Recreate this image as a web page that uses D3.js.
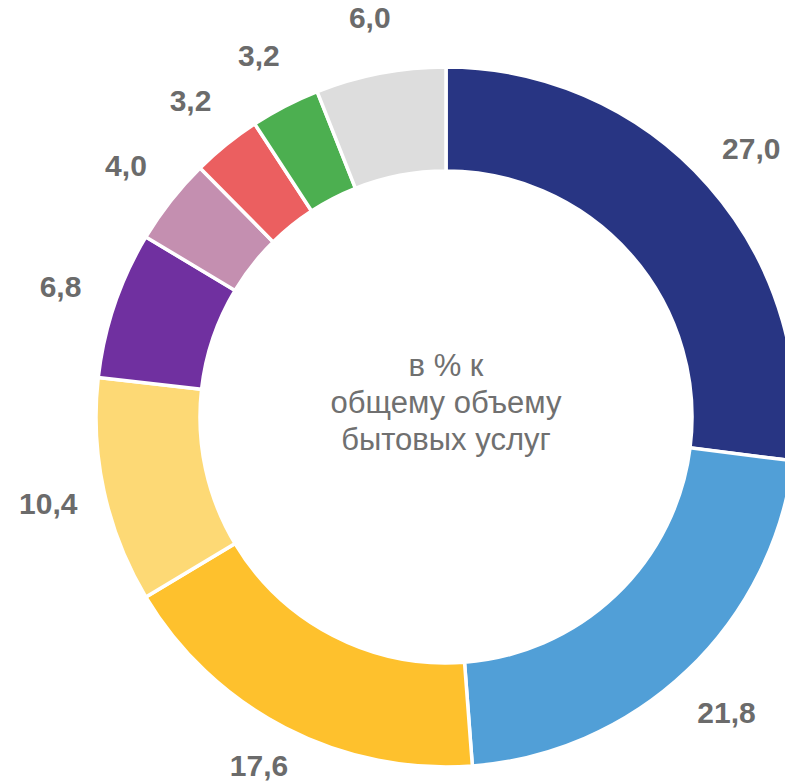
<!DOCTYPE html>
<html>
<head>
<meta charset="utf-8">
<script src="https://cdn.jsdelivr.net/npm/d3@7"></script>
<style>
  html, body { margin: 0; padding: 0; background: #ffffff; }
  svg { display: block; }
</style>
</head>
<body>
<svg id="chart" width="785" height="782"></svg>
<script>
// Data (share of total volume of household services, %)
const categories = ["c1", "c2", "c3", "c4", "c5", "c6", "c7", "c8", "c9"];
const values = [27.0, 21.8, 17.6, 10.4, 6.8, 4.0, 3.2, 3.2, 6.0];
const valueLabels = ["27,0", "21,8", "17,6", "10,4", "6,8", "4,0", "3,2", "3,2", "6,0"];
const colors = ["#283583", "#519fd7", "#fec12d", "#fdd975", "#7030a0", "#c48fb0", "#eb5f60", "#4caf50", "#dddddd"];
const centerLines = ["в % к", "общему объему", "бытовых услуг"];

const W = 785, H = 782;
const svg = d3.select("#chart");
const cx = 446, cy = 417;
const outerR = 350, innerR = 246, labelR = 407;

const g = svg.append("g").attr("transform", `translate(${cx},${cy})`);

const pie = d3.pie().sort(null).value(d => d.value);
const data = categories.map((c, i) => ({ cat: c, value: values[i], label: valueLabels[i], color: colors[i] }));
const arcs = pie(data);

const arc = d3.arc().innerRadius(innerR).outerRadius(outerR);
const labelArc = d3.arc().innerRadius(labelR).outerRadius(labelR);

g.selectAll("path.slice")
  .data(arcs)
  .join("path")
  .attr("class", "slice")
  .attr("d", arc)
  .attr("fill", d => d.data.color)
  .attr("stroke", "#ffffff")
  .attr("stroke-width", 3.5)
  .attr("stroke-linejoin", "miter");

const fontSize = 30;
function labelPos(d) {
  let [x, y] = labelArc.centroid(d);
  const halfW = d.data.label.length * fontSize * 0.52 / 2;
  const halfH = fontSize * 0.55;
  // keep labels inside the drawing area
  x = Math.max(-cx + halfW, Math.min(W - cx - halfW, x));
  y = Math.max(-cy + halfH, Math.min(H - cy - halfH, y));
  return [x, y];
}

g.selectAll("text.val")
  .data(arcs)
  .join("text")
  .attr("class", "val")
  .attr("transform", d => `translate(${labelPos(d)})`)
  .attr("text-anchor", "middle")
  .attr("dy", "0.36em")
  .attr("font-family", "'Liberation Sans', Arial, sans-serif")
  .attr("font-weight", "bold")
  .attr("font-size", fontSize)
  .attr("fill", "#6b6b6b")
  .text(d => d.data.label);

const ct = g.append("text")
  .attr("text-anchor", "middle")
  .attr("font-family", "'Liberation Sans', Arial, sans-serif")
  .attr("font-size", 31)
  .attr("fill", "#707070");
centerLines.forEach((t, i) => {
  ct.append("tspan").attr("x", 0).attr("y", -41 + i * 37).text(t);
});
</script>
</body>
</html>
